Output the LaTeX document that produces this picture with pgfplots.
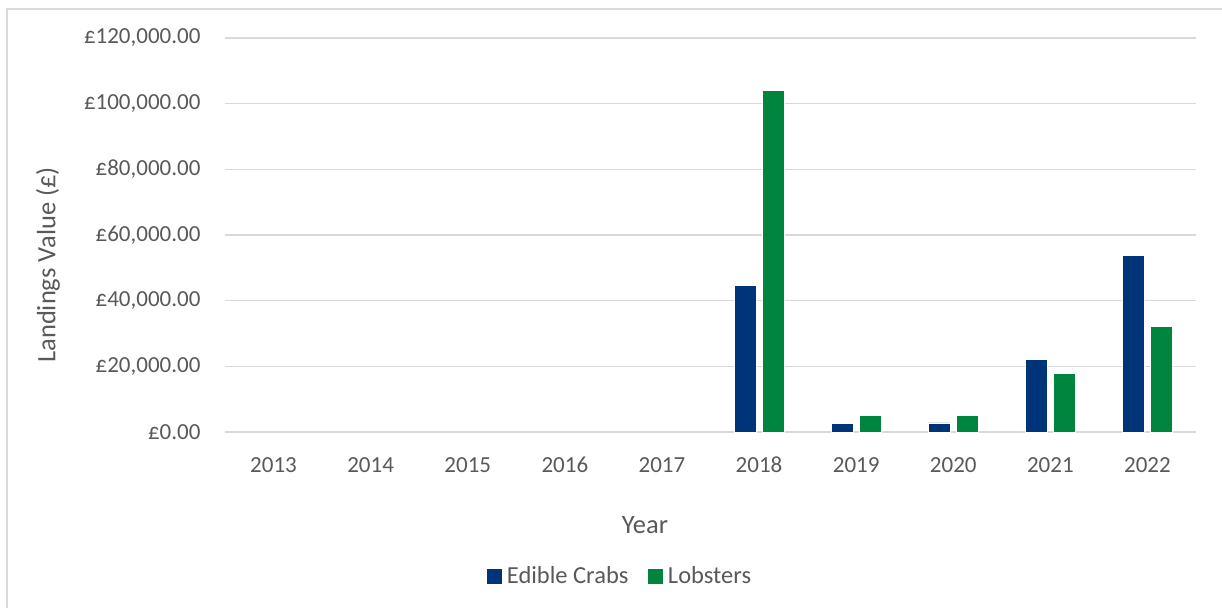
\documentclass[border=0pt]{standalone}
\usepackage{pgfplots}
\pgfplotsset{compat=1.18}
\usepackage{fontspec}
\setmainfont{Carlito}
\definecolor{crab}{RGB}{0,52,120}
\definecolor{lob}{RGB}{0,133,62}
\definecolor{txt}{RGB}{89,89,89}
\definecolor{gridc}{RGB}{217,217,217}
\begin{document}
\begin{tikzpicture}[x=1pt,y=1pt]
\useasboundingbox (-225,-175) rectangle (997,432);
\draw[gridc, line width=1.2pt] (-218,423) rectangle (1010,-190);
\begin{axis}[
  at={(0,0)}, anchor=south west,
  scale only axis, width=971pt, height=394pt,
  ybar=6pt, bar width=22pt,
  xmin=-0.5, xmax=9.5, ymin=0, ymax=120000,
  xtick={0,...,9},
  xticklabels={2013,2014,2015,2016,2017,2018,2019,2020,2021,2022},
  ytick={0,20000,...,120000},
  scaled y ticks=false,
  yticklabels={\pounds0.00,\pounds20{,}000.00,\pounds40{,}000.00,\pounds60{,}000.00,\pounds80{,}000.00,\pounds100{,}000.00,\pounds120{,}000.00},
  major tick length=0pt,
  axis line style={draw=none},
  ymajorgrids, xmajorgrids=false, grid style={draw=gridc, line width=1.5pt},
  ticklabel style={font=\fontsize{23}{27}\selectfont, text=txt},
  yticklabel style={anchor=east, xshift=-21pt},
  xticklabel style={anchor=base, yshift=-40pt},
  xlabel={Year}, ylabel={Landings Value (\pounds)},
  label style={font=\fontsize{26.5}{30}\selectfont, text=txt},
  xlabel style={at={(axis description cs:0.4325,-0.236)}, anchor=center},
  ylabel style={at={(axis description cs:-0.1823,0.424)}, anchor=center, rotate=0},
  legend style={at={(axis description cs:0.407,-0.3655)}, anchor=center, draw=none, legend columns=2,
     font=\fontsize{24.5}{28}\selectfont, text=txt,
     /tikz/every even column/.append style={column sep=18pt}},
  clip=false,
]
\addplot[fill=crab, draw=white, line width=0.6pt,
  legend image code/.code={\fill[crab] (0pt,-7pt) rectangle (14pt,7pt); \path (17pt,0pt);}]
  coordinates {(5,44700) (6,2650) (7,2750) (8,22150) (9,53800)};
\addplot[fill=lob, draw=white, line width=0.6pt,
  legend image code/.code={\fill[lob] (0pt,-7pt) rectangle (14pt,7pt); \path (17pt,0pt);}]
  coordinates {(5,104000) (6,5150) (7,4950) (8,17750) (9,32200)};
\legend{Edible Crabs,Lobsters}
\end{axis}
\end{tikzpicture}
\end{document}
